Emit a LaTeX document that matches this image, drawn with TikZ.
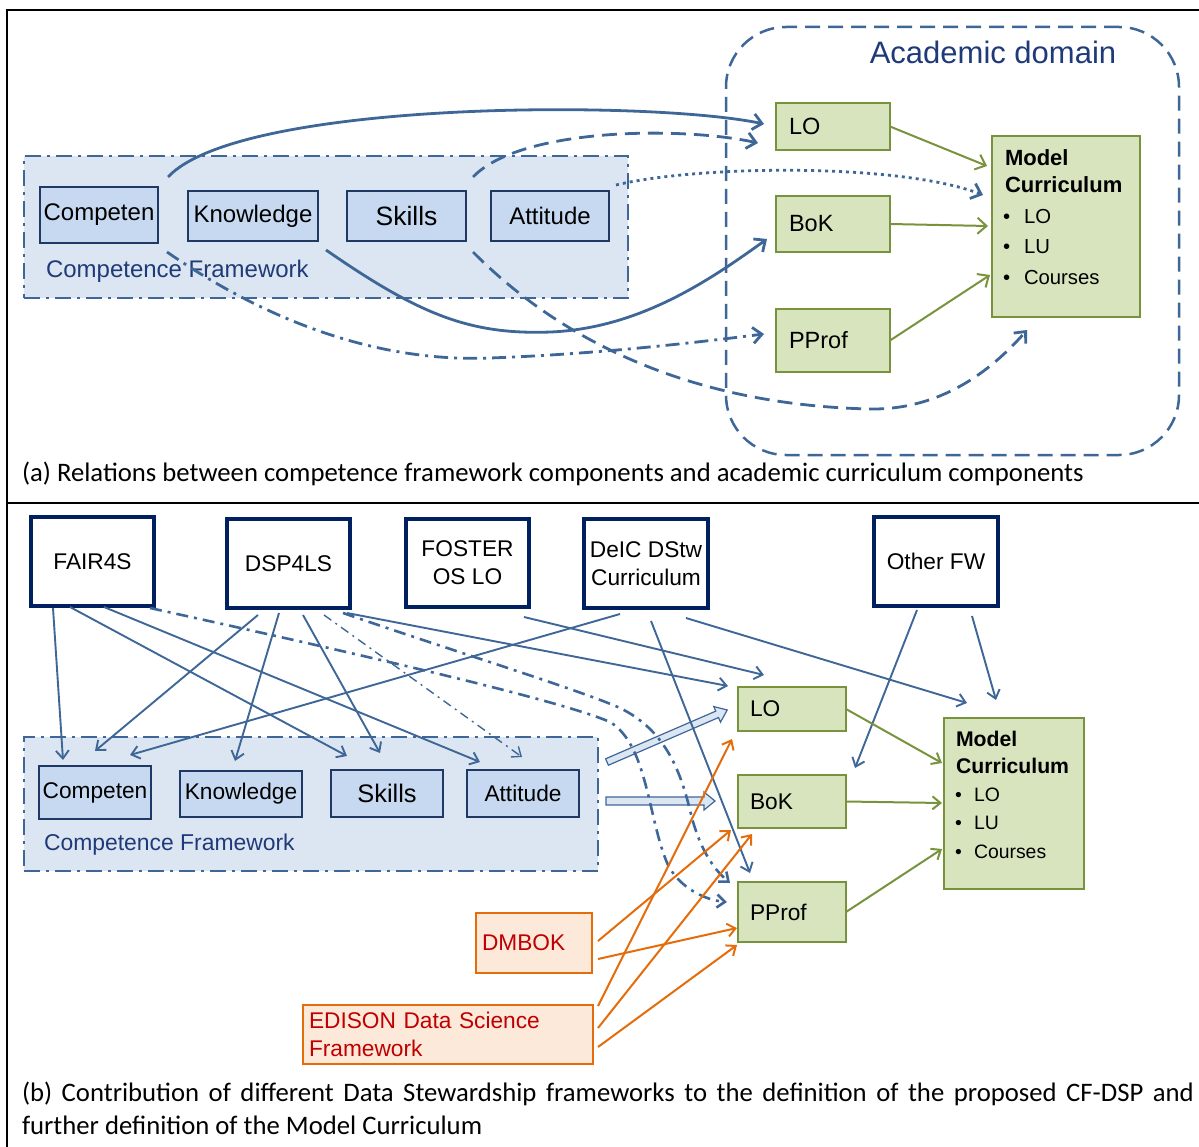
\documentclass[tikz,border=0pt]{standalone}
\usepackage{fontspec}
\setmainfont{Liberation Sans}
\newfontfamily\capfont{Carlito}
\usetikzlibrary{arrows.meta,calc}
\newcommand\fsz[1]{\fontsize{#1}{#1}\selectfont}
\definecolor{cblue}{HTML}{3E6797}
\definecolor{navy}{HTML}{1F3864}
\definecolor{dnavy}{HTML}{002060}
\definecolor{tnavy}{HTML}{1F3A78}
\definecolor{cffill}{HTML}{DCE6F2}
\definecolor{subfill}{HTML}{C6D9F1}
\definecolor{gfill}{HTML}{D7E4BD}
\definecolor{gline}{HTML}{77933C}
\definecolor{ofill}{HTML}{FDE9D9}
\definecolor{oline}{HTML}{E46C0A}
\definecolor{ored}{HTML}{C00000}
\begin{document}
\begin{tikzpicture}[x=1pt,y=-1pt,
  every node/.style={inner sep=0pt, outer sep=0pt},
  cfframe/.style={draw=cblue, fill=cffill, line width=2.8pt, dash pattern=on 16pt off 6pt on 3pt off 6pt},
  subbox/.style={draw=navy, fill=subfill, line width=1.4pt},
  gbox/.style={draw=gline, fill=gfill, line width=1.4pt, align=left},
  fwbox/.style={draw=dnavy, fill=white, line width=3.5pt, align=center, font=\fontsize{22.7}{28}\selectfont},
  obox/.style={draw=oline, fill=ofill, line width=2.5pt, align=left, text=ored, font=\fontsize{22.7}{28}\selectfont},
  blk/.style={draw=cblue, fill=cffill, line width=1.2pt, line join=miter},
  barbA/.style={-{Straight Barb[length=9pt,width=16pt]}},
  barbB/.style={-{Straight Barb[length=8pt,width=13pt]}},
  conA/.style={draw=cblue, line width=2.8pt, barbA},
  conB/.style={draw=cblue, line width=1.9pt, barbB},
  grA/.style={draw=gline, line width=2pt, barbA},
  grB/.style={draw=gline, line width=2pt, barbB},
  orB/.style={draw=oline, line width=2pt, barbB},
  dashdotA/.style={dash pattern=on 14pt off 6pt on 3pt off 6pt},
]
\useasboundingbox (0,0) rectangle (1199,1147);
% frame
\draw[line width=2.2pt] (7,1147) -- (7,10) -- (1199,10);
\draw[line width=2.2pt] (7,503) -- (1199,503);

% ================= part (a) =================
\node[cfframe, minimum width=604pt, minimum height=142pt] (cfA) at (326,227) {};
\node[subbox, minimum width=118pt, minimum height=56pt, font=\fsz{24}] (aComp) at (99,215) {Competen};
\node[subbox, minimum width=130pt, minimum height=50pt, font=\fsz{24}] (aKnow) at (253,216) {Knowledge};
\node[subbox, minimum width=119pt, minimum height=50pt, font=\fsz{26.5}] (aSkill) at (406.5,216) {Skills};
\node[subbox, minimum width=118pt, minimum height=50pt, font=\fsz{24}] (aAtt) at (550,216) {Attitude};
\node[anchor=west, text=tnavy, font=\fsz{24}] (aCFl) at (46,271) {Competence Framework};

\node[draw=cblue, line width=2.5pt, dash pattern=on 15pt off 8pt, rounded corners=60pt, minimum width=453pt, minimum height=428pt] (acad) at (952.5,241) {};
\node[text=tnavy, font=\fsz{31}] (acadl) at (993,52) {Academic domain};

\node[gbox, minimum height=47pt, inner xsep=13pt, text width=88pt, font=\fsz{23.5}] (aLO) at (833,126.5) {LO};
\node[gbox, minimum height=56pt, inner xsep=13pt, text width=88pt, font=\fsz{23.5}] (aBoK) at (833,224) {BoK};
\node[gbox, minimum height=63pt, inner xsep=13pt, text width=88pt, font=\fsz{23.5}] (aPP) at (833,340.5) {PProf};
\node[gbox, minimum width=148pt, minimum height=181pt] (aMC) at (1066,226.5) {};
\node[anchor=west, font=\bfseries\fsz{22}] (aMC1) at (1005,158) {Model};
\node[anchor=west, font=\bfseries\fsz{22}] (aMC2) at (1005,185) {Curriculum};
\node[anchor=west, font=\fsz{20.3}] (aMC3) at (1003,217) {\makebox[21pt][l]{•}LO};
\node[anchor=west, font=\fsz{20.3}] (aMC4) at (1003,247) {\makebox[21pt][l]{•}LU};
\node[anchor=west, font=\fsz{20.3}] (aMC5) at (1003,278) {\makebox[21pt][l]{•}Courses};

% connectors (a)
\draw[conA] ($(aComp)+(69,-38)$) .. controls (240,100) and (650,100) .. ($(aLO)+(-69,-2.5)$);
\draw[conA, dash pattern=on 15pt off 8pt] ($(aAtt)+(-77,-39)$) .. controls (520,128) and (680,126) .. ($(aLO)+(-75,16.5)$);
\draw[conA, dash pattern=on 3pt off 4pt] ($(cfA)+(290,-42)$) .. controls (700,165) and (900,163) .. ($(aMC)+(-83,-31.5)$);
\draw[conA] ($(aKnow)+(73,34)$) .. controls (420,315) and (470,335) .. (551,332) .. controls (640,328) and (710,280) .. ($(aBoK)+(-66,15)$);
\draw[conA, dashdotA] ($(aComp)+(68,37)$) .. controls (280,330) and (390,362) .. (490,358) .. controls (600,354) and (700,342) .. ($(aPP)+(-69,-6.5)$);
\draw[conA, dash pattern=on 15pt off 8pt] ($(aSkill)+(66.5,36)$) .. controls (560,340) and (690,405) .. (870,409) .. controls (940,410) and (990,372) .. ($(aMC)+(-39,103.5)$);

\draw[grA] (aLO.east) -- ($(aMC)+(-79,-60.5)$);
\draw[grA] (aBoK.east) -- ($(aMC)+(-78,-0.5)$);
\draw[grA] (aPP.east) -- ($(aMC)+(-76,48.5)$);

\node[anchor=base west, font=\capfont\fsz{26.7}] (capA) at (22,481) {(a) Relations between competence framework components and academic curriculum components};

% ================= part (b) =================
\node[fwbox, minimum width=123pt, minimum height=89pt] (fair) at (92.5,561.5) {FAIR4S};
\node[fwbox, minimum width=123pt, minimum height=89pt] (dsp) at (288.5,563.5) {DSP4LS};
\node[fwbox, minimum width=123pt, minimum height=88pt] (foster) at (467.5,563) {FOSTER\\OS LO};
\node[fwbox, minimum width=124pt, minimum height=89pt] (deic) at (646,563.5) {DeIC DStw\\Curriculum};
\node[fwbox, minimum width=124pt, minimum height=89pt] (other) at (936,561.5) {Other FW};

\node[cfframe, minimum width=574pt, minimum height=134pt] (cfB) at (311,804) {};
\node[subbox, minimum width=112pt, minimum height=53pt, font=\fsz{22.7}] (bComp) at (95,792.5) {Competen};
\node[subbox, minimum width=122pt, minimum height=46pt, font=\fsz{22.7}] (bKnow) at (241,794) {Knowledge};
\node[subbox, minimum width=112pt, minimum height=47pt, font=\fsz{25.4}] (bSkill) at (387,793.5) {Skills};
\node[subbox, minimum width=112pt, minimum height=47pt, font=\fsz{22.7}] (bAtt) at (523,793.5) {Attitude};
\node[anchor=west, text=tnavy, font=\fsz{22.9}] (bCFl) at (44,845) {Competence Framework};

\node[gbox, minimum height=44pt, inner xsep=12pt, text width=84pt, font=\fsz{22.7}] (bLO) at (792,709) {LO};
\node[gbox, minimum height=53pt, inner xsep=12pt, text width=84pt, font=\fsz{22.7}] (bBoK) at (792,801.5) {BoK};
\node[gbox, minimum height=60pt, inner xsep=12pt, text width=84pt, font=\fsz{22.7}] (bPP) at (792,912) {PProf};
\node[gbox, minimum width=140pt, minimum height=171pt] (bMC) at (1014,803.5) {};
\node[anchor=west, font=\bfseries\fsz{21.2}] (bMC1) at (956,739) {Model};
\node[anchor=west, font=\bfseries\fsz{21.2}] (bMC2) at (956,766) {Curriculum};
\node[anchor=west, font=\fsz{19.4}] (bMC3) at (955,795) {\makebox[19pt][l]{•}LO};
\node[anchor=west, font=\fsz{19.4}] (bMC4) at (955,823) {\makebox[19pt][l]{•}LU};
\node[anchor=west, font=\fsz{19.4}] (bMC5) at (955,852) {\makebox[19pt][l]{•}Courses};

\node[obox, minimum height=60pt, inner xsep=6pt, text width=104pt] (dmbok) at (534,943) {DMBOK};
\node[obox, minimum height=59pt, inner xsep=6pt, text width=278pt] (edison) at (448,1034.5) {EDISON Data Science\\Framework};

% block arrows (CF -> LO, CF -> BoK)
\begin{scope}[shift={(607,762)}, rotate=23.4]
  \draw[blk] (0,-3.5) -- (120,-3.5) -- (120,-8.5) -- (131,0) -- (120,8.5) -- (120,3.5) -- (0,3.5) -- cycle;
\end{scope}
\draw[blk] (606,797) -- (704,797) -- (704,792) -- (715,801) -- (704,810) -- (704,805) -- (606,805) -- cycle;

% blue connectors (b)
\draw[conB] ($(fair)+(-39.5,46.5)$) -- ($(bComp)+(-32,-32.5)$);
\draw[conB] ($(fair)+(-22.5,45.5)$) -- ($(bSkill)+(-40,-37.5)$);
\draw[conB] ($(fair)+(11.5,45.5)$) -- ($(bAtt)+(-43,-31.5)$);
\draw[conB] ($(dsp)+(-30.5,51.5)$) -- ($(bComp)+(0,-41.5)$);
\draw[conB] ($(dsp)+(-9.5,49.5)$) -- ($(bKnow)+(-6,-33)$);
\draw[conB] ($(dsp)+(14.5,51.5)$) -- ($(bSkill)+(-7,-40.5)$);
\draw[conB, line width=1.4pt, dash pattern=on 9pt off 5pt on 2pt off 5pt] ($(dsp)+(35.5,51.5)$) -- ($(bAtt)+(-1,-36.5)$);
\draw[conB] ($(dsp)+(58.5,49.5)$) -- ($(bLO)+(-64,-23)$);
\draw[conB] ($(foster)+(56.5,54)$) -- ($(bLO)+(-28,-34)$);
\draw[conB] ($(deic)+(-26,50.5)$) -- ($(bComp)+(35,-37.5)$);
\draw[conB] ($(deic)+(5,57.5)$) -- ($(bPP)+(-42,-39)$);
\draw[conB] ($(deic)+(40,54.5)$) -- ($(bMC)+(-47,-100.5)$);
\draw[conB] ($(other)+(-19,48.5)$) -- ($(bBoK)+(63,-33.5)$);
\draw[conB] ($(other)+(36,54.5)$) -- ($(bMC)+(-18,-103.5)$);

\draw[conB, line width=2.6pt, dash pattern=on 12pt off 6pt on 3pt off 6pt] ($(fair)+(57.5,46.5)$) .. controls (350,652) and (560,700) .. (610,722) .. controls (648,745) and (648,820) .. (668,865) .. controls (680,888) and (705,900) .. ($(bPP)+(-65,-10)$);
\draw[conB, line width=2.6pt, dash pattern=on 12pt off 6pt on 3pt off 6pt] ($(dsp)+(54.5,49.5)$) .. controls (450,650) and (580,690) .. (620,708) .. controls (665,730) and (680,770) .. (690,810) .. controls (698,845) and (712,868) .. ($(bPP)+(-62,-29)$);

% green (b)
\draw[grB] (bLO.east) -- ($(bMC)+(-72,-40.5)$);
\draw[grB] (bBoK.east) -- ($(bMC)+(-72,-0.5)$);
\draw[grB] (bPP.east) -- ($(bMC)+(-72,45.5)$);

% orange
\draw[orB] ($(dmbok)+(64,-2)$) -- ($(bBoK)+(-61,28.5)$);
\draw[orB] ($(dmbok)+(64,16)$) -- ($(bPP)+(-55,16)$);
\draw[orB] ($(edison)+(150,-28.5)$) -- ($(bLO)+(-60,30)$);
\draw[orB] ($(edison)+(150,-6.5)$) -- ($(bBoK)+(-40,32.5)$);
\draw[orB] ($(edison)+(150,12.5)$) -- ($(bPP)+(-55,33)$);

\node[anchor=north west, text width=1172pt, align=justify, font=\capfont\fontsize{26.7}{33}\selectfont] (capB) at (22,1082) {(b) Contribution of different Data Stewardship frameworks to the definition of the proposed CF-DSP and\linebreak further definition of the Model Curriculum};
\end{tikzpicture}
\end{document}
